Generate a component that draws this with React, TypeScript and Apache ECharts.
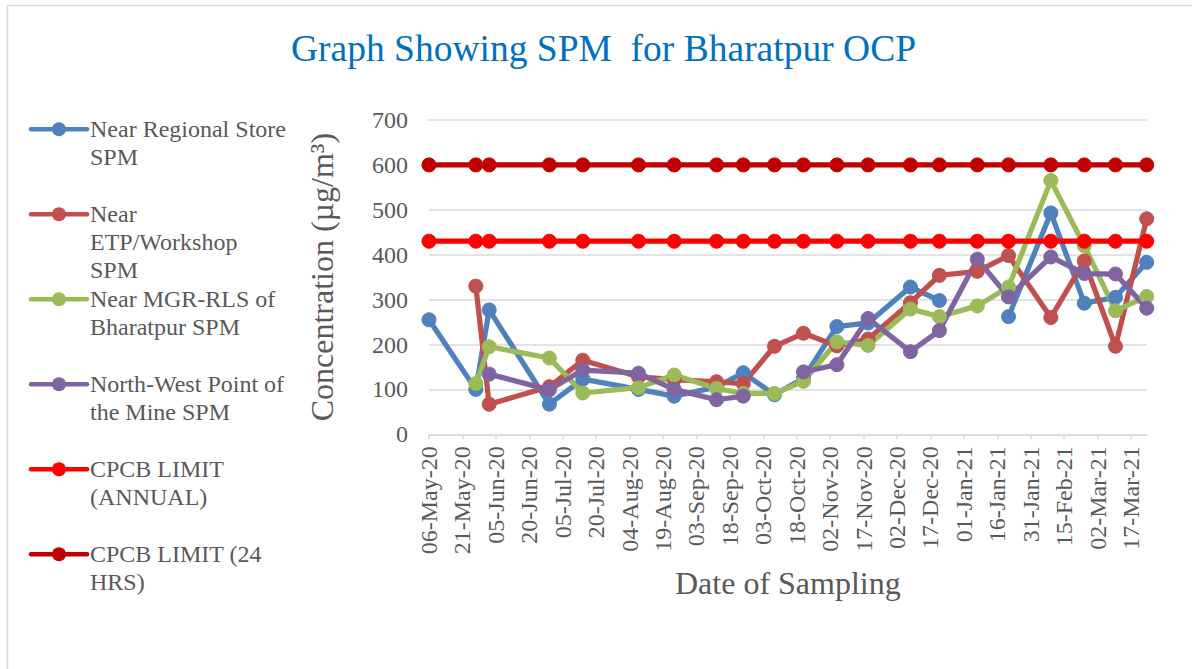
import React, { useEffect, useRef } from 'react';
import * as echarts from 'echarts';

const sampleDates = [
  '2020-05-06', '2020-05-27', '2020-06-02', '2020-06-29', '2020-07-14', '2020-08-08', '2020-08-24',
  '2020-09-12', '2020-09-24', '2020-10-08', '2020-10-21', '2020-11-05', '2020-11-19', '2020-12-08',
  '2020-12-21', '2021-01-07', '2021-01-21', '2021-02-09', '2021-02-24', '2021-03-10', '2021-03-24',
];

const tickLabels = [
  '06-May-20', '21-May-20', '05-Jun-20', '20-Jun-20', '05-Jul-20', '20-Jul-20', '04-Aug-20', '19-Aug-20',
  '03-Sep-20', '18-Sep-20', '03-Oct-20', '18-Oct-20', '02-Nov-20', '17-Nov-20', '02-Dec-20', '17-Dec-20',
  '01-Jan-21', '16-Jan-21', '31-Jan-21', '15-Feb-21', '02-Mar-21', '17-Mar-21',
];

const regionalStore = [255, 100, 277, 67, 123, 100, 85, 105, 137, 88, 125, 240, 248, 328, 298, null, 262, 493, 292, 305, 383];
const etpWorkshop = [null, 330, 67, 106, 165, 128, 122, 117, 113, 196, 225, 197, 212, 293, 354, 363, 398, 260, 386, 196, 480];
const mgrRls = [null, 113, 195, 170, 92, 104, 132, 102, 91, 91, 118, 206, 198, 279, 262, 286, 328, 565, 420, 275, 307];
const northWest = [null, null, 134, 99, 143, 136, 100, 77, 85, null, 139, 155, 258, 184, 231, 390, 306, 395, 358, 357, 281];
const cpcbAnnual = [430, 430, 430, 430, 430, 430, 430, 430, 430, 430, 430, 430, 430, 430, 430, 430, 430, 430, 430, 430, 430];
const cpcb24h = [600, 600, 600, 600, 600, 600, 600, 600, 600, 600, 600, 600, 600, 600, 600, 600, 600, 600, 600, 600, 600];

const seriesNames = [
  'Near Regional Store SPM',
  'Near ETP/Workshop SPM',
  'Near MGR-RLS of Bharatpur SPM',
  'North-West Point of the Mine SPM',
  'CPCB LIMIT (ANNUAL)',
  'CPCB LIMIT (24 HRS)',
];
const legendLabels = [
  'Near Regional Store\nSPM',
  'Near\nETP/Workshop\nSPM',
  'Near MGR-RLS of\nBharatpur SPM',
  'North-West Point of\nthe Mine SPM',
  'CPCB LIMIT\n(ANNUAL)',
  'CPCB LIMIT (24\nHRS)',
];
const seriesValues = [regionalStore, etpWorkshop, mgrRls, northWest, cpcbAnnual, cpcb24h];
const colors = ['#4F81BD', '#C0504D', '#9BBB59', '#8064A2', '#FF0000', '#C00000'];

const FONT = "'Liberation Serif', 'Times New Roman', serif";
const TEXT_COLOR = '#595959';
const GRID_COLOR = '#D9D9D9';

function dayOffset(d: string): number {
  const [y0, m0, d0] = sampleDates[0].split('-').map(Number);
  const [y, m, dd] = d.split('-').map(Number);
  return Math.round((Date.UTC(y, m - 1, dd) - Date.UTC(y0, m0 - 1, d0)) / 86400000);
}

export default function App() {
  const ref = useRef<HTMLDivElement>(null);

  useEffect(() => {
    document.body.style.margin = '0';
    if (!ref.current) return;
    const chart = echarts.init(ref.current, undefined, { renderer: 'svg' });

    const xs = sampleDates.map(dayOffset);
    const xMax = xs[xs.length - 1];
    const tickValues = tickLabels.map((_, i) => i * 15);

    const legendGraphics: any[] = [];
    legendLabels.forEach((lbl, i) => {
      const y0 = 129.3 + 85 * i;
      legendGraphics.push({
        type: 'line',
        shape: { x1: 31, y1: y0, x2: 87, y2: y0 },
        style: { stroke: colors[i], lineWidth: 4.5, lineCap: 'round' },
        silent: true,
      });
      legendGraphics.push({
        type: 'circle',
        shape: { cx: 59, cy: y0, r: 7 },
        style: { fill: colors[i] },
        silent: true,
      });
      legendGraphics.push({
        type: 'text',
        x: 90,
        y: y0 - 14,
        style: {
          text: lbl,
          fontSize: 24,
          fontFamily: FONT,
          lineHeight: 28,
          fill: TEXT_COLOR,
          verticalAlign: 'top',
          align: 'left',
        },
        silent: true,
      });
    });

    chart.setOption({
      animation: false,
      backgroundColor: '#FFFFFF',
      title: {
        text: 'Graph Showing SPM  for Bharatpur OCP',
        left: 291,
        top: 29,
        padding: 0,
        textStyle: { fontFamily: FONT, fontSize: 37.5, fontWeight: 'normal', color: '#0070C0' },
      },
      grid: { left: 429, top: 120, width: 717.7, height: 314.3 },
      xAxis: {
        type: 'value',
        min: 0,
        max: xMax,
        interval: 15,
        name: 'Date of Sampling',
        nameLocation: 'middle',
        nameGap: 133,
        nameTextStyle: { fontFamily: FONT, fontSize: 32, color: TEXT_COLOR },
        axisLine: { show: true, lineStyle: { color: GRID_COLOR, width: 1.5 } },
        axisTick: { show: true, customValues: tickValues, length: 5, lineStyle: { color: GRID_COLOR, width: 1.5 } },
        splitLine: { show: false },
        axisLabel: {
          customValues: tickValues,
          rotate: 90,
          margin: 12,
          fontFamily: FONT,
          fontSize: 24,
          color: TEXT_COLOR,
          formatter: (v: number) => tickLabels[Math.round(v / 15)] ?? '',
        },
      },
      yAxis: {
        type: 'value',
        min: 0,
        max: 700,
        interval: 100,
        name: 'Concentration (µg/m³)',
        nameLocation: 'middle',
        nameGap: 91,
        nameRotate: 90,
        nameTextStyle: { fontFamily: FONT, fontSize: 32, color: TEXT_COLOR },
        axisLine: { show: false },
        axisTick: { show: false },
        splitLine: { show: true, lineStyle: { color: GRID_COLOR, width: 1.5 } },
        axisLabel: { margin: 21, fontFamily: FONT, fontSize: 24, color: TEXT_COLOR },
      },
      series: seriesNames.map((name, i) => ({
        name,
        type: 'line',
        data: seriesValues[i].map((v, j) => [xs[j], v]),
        symbol: 'circle',
        symbolSize: 14,
        showSymbol: true,
        connectNulls: false,
        lineStyle: { color: colors[i], width: 5.25 },
        itemStyle: { color: colors[i], borderColor: colors[i] },
        emphasis: { disabled: true },
      })),
      graphic: [
        {
          type: 'rect',
          shape: { x: 7.5, y: 5.5, width: 1200, height: 700 },
          style: { fill: 'none', stroke: GRID_COLOR, lineWidth: 1.5 },
          silent: true,
          z: -10,
        },
        ...legendGraphics,
      ],
    });

    return () => chart.dispose();
  }, []);

  return <div ref={ref} style={{ width: 1192, height: 669 }} />;
}
